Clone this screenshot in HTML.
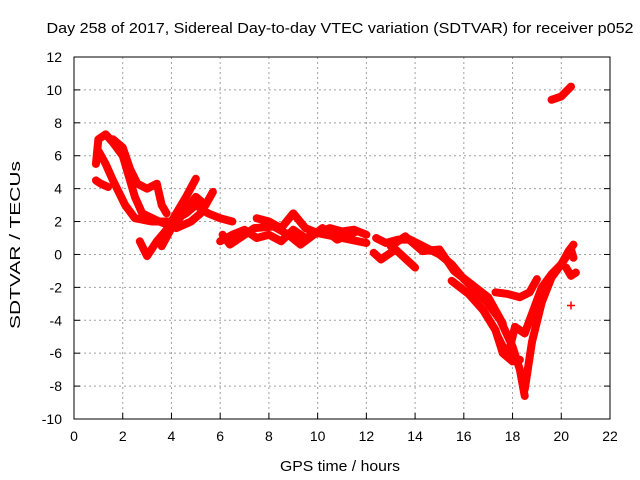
<!DOCTYPE html>
<html><head><meta charset="utf-8"><style>
html,body{margin:0;padding:0;background:#fff;}
svg{display:block;font-family:"Liberation Sans",sans-serif;}
</style></head><body>
<svg id="chart" width="640" height="480">
<text x="340" y="33" font-size="15" text-anchor="middle" textLength="587" lengthAdjust="spacingAndGlyphs">Day 258 of 2017, Sidereal Day-to-day VTEC variation (SDTVAR) for receiver p052</text>
<text x="340" y="471" font-size="15" text-anchor="middle" textLength="120" lengthAdjust="spacingAndGlyphs">GPS time / hours</text>
<text x="20" y="245" font-size="15" text-anchor="middle" textLength="168" lengthAdjust="spacingAndGlyphs" transform="rotate(-90 20 245)">SDTVAR / TECUs</text>
<g id="grid"></g><g id="ticks"></g><g id="series"></g>
<rect x="74" y="57" width="536" height="362" fill="none" stroke="#000" stroke-width="1"/>
</svg>
<script>
const xTicks=[0,2,4,6,8,10,12,14,16,18,20,22];
const yTicks=[-10,-8,-6,-4,-2,0,2,4,6,8,10,12];
const trackAx=[0.9,1.1,1.4];
const trackAy=[4.5,4.3,4.1];
const trackBx=[0.9,1.0,1.3,1.6,2.0,2.3,2.5,2.8,3.5,4.2,4.8,5.2];
const trackBy=[5.5,7.0,7.3,6.8,6.0,4.5,3.5,2.5,2.0,1.6,2.0,2.5];
const trackCx=[1.0,1.3,1.6,2.1,2.5,3.2,4.0,4.6,5.0,5.5,6.0,6.5];
const trackCy=[6.3,5.5,4.5,3.0,2.2,2.0,2.0,2.5,3.0,2.5,2.2,2.0];
const trackDx=[1.6,2.0,2.3,2.6,3.0,3.4,3.6,3.8];
const trackDy=[7.0,6.5,5.2,4.3,4.0,4.3,3.0,2.5];
const trackEx=[2.7,3.0,3.4,3.8,4.2,4.6,5.0];
const trackEy=[0.8,-0.1,0.8,1.5,2.5,3.5,4.6];
const trackFx=[3.6,4.0,4.5,5.0,5.4,5.7];
const trackFy=[0.5,1.6,2.5,3.5,3.0,3.8];
const trackGx=[6.0,6.5,7.0,7.5,8.0,8.5,9.0,9.5,10.0,11.0,12.0];
const trackGy=[0.8,1.2,1.5,1.0,1.2,0.8,1.5,1.0,1.3,1.0,0.7];
const trackG2x=[6.1,6.4,6.8,7.4,8.2,8.8,9.3,10.2,10.8,11.6];
const trackG2y=[1.2,0.6,1.0,1.6,1.7,1.2,0.6,1.6,0.9,1.4];
const trackHx=[7.5,8.0,8.5,9.0,9.5,10.0,10.5,11.0,11.5,12.0];
const trackHy=[2.2,2.0,1.6,2.5,1.6,1.3,1.6,1.4,1.5,1.2];
const trackIx=[12.4,12.8,13.3,13.8,14.2,14.6,15.0,15.5,16.0,16.5,17.0,17.5,18.0,18.3,18.5];
const trackIy=[1.0,0.7,0.9,0.9,0.6,0.3,0.0,-0.6,-1.5,-2.2,-3.0,-4.0,-5.6,-7.0,-8.6];
const trackI2x=[13.0,13.6,14.3,15.0,15.6,16.3,17.0,17.6];
const trackI2y=[0.5,1.1,0.2,0.3,-1.0,-1.8,-2.6,-4.2];
const trackJx=[12.3,12.6,13.2,14.0];
const trackJy=[0.1,-0.3,0.3,-0.8];
const trackKx=[15.5,16.2,16.8,17.3,17.6,18.0,18.3];
const trackKy=[-1.6,-2.4,-3.4,-4.6,-6.0,-6.5,-6.4];
const trackLx=[17.4,17.8,18.1,18.5,18.9,19.2,19.6,20.0,20.3,20.5];
const trackLy=[-5.0,-6.2,-4.4,-4.8,-3.2,-2.0,-1.2,-0.6,0.2,0.6];
const trackMx=[18.5,18.8,19.2,19.6,20.0,20.4,20.5];
const trackMy=[-8.2,-5.3,-2.9,-1.4,-0.6,0.3,-0.2];
const trackNx=[17.3,17.8,18.3,18.7,19.0];
const trackNy=[-2.3,-2.4,-2.6,-2.3,-1.5];
const trackOx=[20.2,20.4,20.6];
const trackOy=[-0.8,-1.3,-1.1];
const trackPx=[19.6,20.0,20.4];
const trackPy=[9.4,9.6,10.2];
const pointX=[20.4];
const pointY=[-3.1];
const tracks=[[trackAx,trackAy],[trackBx,trackBy],[trackCx,trackCy],[trackDx,trackDy],[trackEx,trackEy],[trackFx,trackFy],[trackGx,trackGy],[trackG2x,trackG2y],[trackHx,trackHy],[trackIx,trackIy],[trackI2x,trackI2y],[trackJx,trackJy],[trackKx,trackKy],[trackLx,trackLy],[trackMx,trackMy],[trackNx,trackNy],[trackOx,trackOy],[trackPx,trackPy]];
const NS='http://www.w3.org/2000/svg';
function sx(h){return 74+h*(536/22);}
function sy(v){return 419-(v+10)*(362/22);}
function mk(tag,attrs,parent){const e=document.createElementNS(NS,tag);for(const k in attrs)e.setAttribute(k,attrs[k]);parent.appendChild(e);return e;}
const grid=document.getElementById('grid'),ticks=document.getElementById('ticks'),series=document.getElementById('series');
xTicks.forEach(t=>{const x=sx(t);
 if(t>0&&t<22){const g=mk('line',{x1:x,x2:x,y1:57,y2:419,stroke:'#a0a0a0','stroke-dasharray':'2,3'},grid);
 
 }
 mk('line',{x1:x,x2:x,y1:419,y2:413,stroke:'#000'},ticks);
 const l=mk('text',{x:x,y:441,'font-size':14,'text-anchor':'middle'},ticks);l.textContent=t;
 
 });
yTicks.forEach(t=>{const y=sy(t);
 if(t>-10&&t<12){const g=mk('line',{x1:74,x2:610,y1:y,y2:y,stroke:'#a0a0a0','stroke-dasharray':'2,3'},grid);
 
 }
 mk('line',{x1:74,x2:80,y1:y,y2:y,stroke:'#000'},ticks);
 mk('line',{x1:604,x2:610,y1:y,y2:y,stroke:'#000'},ticks);
 const l=mk('text',{x:62,y:y+5,'font-size':14,'text-anchor':'end'},ticks);l.textContent=t;
 
 });
tracks.forEach(tr=>{const pts=tr[0].map((h,i)=>sx(h)+','+sy(tr[1][i])).join(' ');
 const p=mk('polyline',{points:pts,fill:'none',stroke:'#ff0000','stroke-width':8,'stroke-linejoin':'round','stroke-linecap':'round'},series);
 
 });
pointX.forEach((h,i)=>{const x=sx(h),y=sy(pointY[i]);
 const p=mk('path',{d:`M${x-4},${y}H${x+4}M${x},${y-4}V${y+4}`,stroke:'#ff0000','stroke-width':1.5},series);
 
 });
</script>
</body></html>
